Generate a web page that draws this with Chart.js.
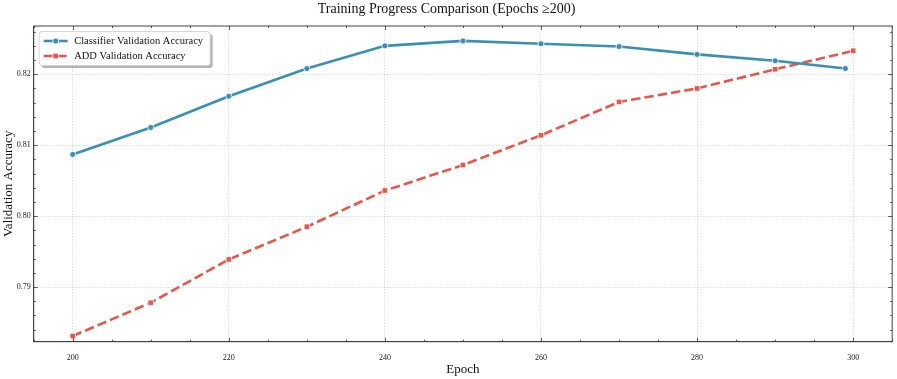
<!DOCTYPE html>
<html>
<head>
<meta charset="utf-8">
<script src="https://cdn.jsdelivr.net/npm/chart.js@4/dist/chart.umd.min.js"></script>
<style>
  html, body { margin: 0; padding: 0; background: #fff; }
  #wrap { width: 897px; height: 379px; position: relative; }
</style>
</head>
<body>
<div id="wrap"><canvas id="c"></canvas></div>
<script>
// ---- data ----
const classifierEpochs = [200, 210, 220, 230, 240, 250, 260, 270, 280, 290, 299];
const classifierAcc    = [0.8087, 0.8125, 0.8169, 0.8208, 0.8240, 0.8247, 0.8243, 0.8239, 0.8228, 0.8219, 0.8208];
const addEpochs        = [200, 210, 220, 230, 240, 250, 260, 270, 280, 290, 300];
const addAcc           = [0.7831, 0.7878, 0.7939, 0.7985, 0.8036, 0.8072, 0.8114, 0.8161, 0.8180, 0.8207, 0.8233];
const xTickValues      = [200, 220, 240, 260, 280, 300];
const yTickValues      = [0.79, 0.80, 0.81, 0.82];
const seriesNames      = ['Classifier Validation Accuracy', 'ADD Validation Accuracy'];
const titleText        = 'Training Progress Comparison (Epochs \u2265200)';
const xLabel           = 'Epoch';
const yLabel           = 'Validation Accuracy';

const BLUE = '#3A8FB7';
const RED  = '#E8564A';
const SERIF = '"Liberation Serif", "DejaVu Serif", serif';

function toXY(xs, ys) { return xs.map((x, i) => ({ x: x, y: ys[i] })); }

// inward ticks, top/right frame and legend
const decorPlugin = {
  id: 'decor',
  afterDraw(chart) {
    const ctx = chart.ctx;
    const a = chart.chartArea;
    const xs = chart.scales.x, ys = chart.scales.y;
    ctx.save();
    // frame
    ctx.strokeStyle = '#444';
    ctx.lineWidth = 1;
    ctx.strokeRect(a.left, a.top, a.right - a.left, a.bottom - a.top);
    // ticks
    ctx.strokeStyle = '#333';
    ctx.lineWidth = 0.8;
    const major = 4, minor = 2;
    ctx.beginPath();
    for (let v = Math.ceil(xs.min / 5) * 5; v <= xs.max + 1e-9; v += 5) {
      const px = Math.round(xs.getPixelForValue(v)) + 0.5;
      const L = (v % 20 === 0) ? major : minor;
      ctx.moveTo(px, a.bottom); ctx.lineTo(px, a.bottom - L);
      ctx.moveTo(px, a.top); ctx.lineTo(px, a.top + L);
    }
    const start = Math.ceil(ys.min / 0.002 - 1e-6);
    const end = Math.floor(ys.max / 0.002 + 1e-6);
    for (let k = start; k <= end; k++) {
      const v = k * 0.002;
      const py = Math.round(ys.getPixelForValue(v)) + 0.5;
      const L = (k % 5 === 0) ? major : minor;
      ctx.moveTo(a.left, py); ctx.lineTo(a.left + L, py);
      ctx.moveTo(a.right, py); ctx.lineTo(a.right - L, py);
    }
    ctx.stroke();

    // legend
    const lx = a.left + 5.5, ly = a.top + 5.5, lw = 171, lh = 34, r = 3;
    function rr(x, y, w, h) {
      ctx.beginPath();
      ctx.moveTo(x + r, y);
      ctx.lineTo(x + w - r, y); ctx.quadraticCurveTo(x + w, y, x + w, y + r);
      ctx.lineTo(x + w, y + h - r); ctx.quadraticCurveTo(x + w, y + h, x + w - r, y + h);
      ctx.lineTo(x + r, y + h); ctx.quadraticCurveTo(x, y + h, x, y + h - r);
      ctx.lineTo(x, y + r); ctx.quadraticCurveTo(x, y, x + r, y);
      ctx.closePath();
    }
    rr(lx + 2.5, ly + 2.5, lw, lh);
    ctx.fillStyle = 'rgba(120,120,120,0.55)';
    ctx.fill();
    rr(lx, ly, lw, lh);
    ctx.fillStyle = '#fff';
    ctx.fill();
    ctx.strokeStyle = '#cccccc';
    ctx.lineWidth = 0.8;
    ctx.stroke();

    chart.data.datasets.forEach((ds, i) => {
      const cy = ly + 9.5 + i * 15;
      const x0 = lx + 4.5, x1 = lx + 28.5;
      ctx.save();
      ctx.strokeStyle = ds.borderColor;
      ctx.lineWidth = ds.borderWidth;
      ctx.setLineDash(ds.borderDash || []);
      ctx.beginPath(); ctx.moveTo(x0, cy); ctx.lineTo(x1, cy); ctx.stroke();
      ctx.setLineDash([]);
      const mx = (x0 + x1) / 2;
      ctx.fillStyle = ds.borderColor;
      ctx.strokeStyle = '#fff';
      ctx.lineWidth = 0.8;
      ctx.beginPath();
      if (ds.pointStyle === 'rect') {
        const s = 2.8;
        ctx.rect(mx - s, cy - s, 2 * s, 2 * s);
      } else {
        ctx.arc(mx, cy, 3, 0, Math.PI * 2);
      }
      ctx.fill(); ctx.stroke();
      ctx.restore();
      ctx.fillStyle = '#111';
      ctx.font = '10.5px ' + SERIF;
      ctx.textBaseline = 'middle';
      ctx.textAlign = 'left';
      ctx.fillText(ds.label, lx + 35, cy + 0.5);
    });
    ctx.restore();
  }
};

new Chart(document.getElementById('c'), {
  type: 'line',
  data: {
    datasets: [
      {
        label: seriesNames[0],
        data: toXY(classifierEpochs, classifierAcc),
        borderColor: BLUE,
        backgroundColor: BLUE,
        borderWidth: 2.6,
        pointStyle: 'circle',
        pointRadius: 3,
        pointBackgroundColor: BLUE,
        pointBorderColor: '#fff',
        pointBorderWidth: 0.8,
        tension: 0,
        fill: false
      },
      {
        label: seriesNames[1],
        data: toXY(addEpochs, addAcc),
        borderColor: RED,
        backgroundColor: RED,
        borderWidth: 2.6,
        borderDash: [9.5, 4],
        pointStyle: 'rect',
        pointRadius: 3.9,
        pointBackgroundColor: RED,
        pointBorderColor: '#fff',
        pointBorderWidth: 0.8,
        tension: 0,
        fill: false
      }
    ]
  },
  options: {
    responsive: true,
    maintainAspectRatio: false,
    animation: false,
    events: [],
    layout: { padding: { top: 0, right: 4, left: 0, bottom: 0 } },
    plugins: {
      legend: { display: false },
      tooltip: { enabled: false },
      title: {
        display: true,
        text: titleText,
        color: '#111',
        font: { family: SERIF, size: 14, weight: 'normal', lineHeight: 1.2 },
        padding: { top: 1, bottom: 8.2 }
      }
    },
    scales: {
      x: {
        type: 'linear',
        min: 195,
        max: 305,
        afterBuildTicks(scale) { scale.ticks = xTickValues.map(v => ({ value: v })); },
        afterFit(scale) { scale.height = 37.3; },
        ticks: {
          color: '#222',
          padding: 11,
          maxRotation: 0,
          font: { family: SERIF, size: 8 },
          callback: (v) => String(v)
        },
        grid: {
          drawTicks: false,
          color: 'rgba(0,0,0,0.22)',
          lineWidth: 0.7
        },
        border: { display: true, color: '#444', width: 1, dash: [1.2, 1.6] },
        title: {
          display: true,
          text: xLabel,
          color: '#111',
          font: { family: SERIF, size: 13, lineHeight: 1.2 },
          padding: { top: 0, bottom: 1.2 }
        }
      },
      y: {
        type: 'linear',
        min: 0.7823,
        max: 0.8268,
        afterBuildTicks(scale) { scale.ticks = yTickValues.map(v => ({ value: v })); },
        afterFit(scale) { scale.width = 33.7; },
        ticks: {
          color: '#222',
          padding: 3,
          font: { family: SERIF, size: 8 },
          callback: (v) => Number(v).toFixed(2)
        },
        grid: {
          drawTicks: false,
          color: 'rgba(0,0,0,0.22)',
          lineWidth: 0.7
        },
        border: { display: true, color: '#444', width: 1, dash: [1.2, 1.6] },
        title: {
          display: true,
          text: yLabel,
          color: '#111',
          font: { family: SERIF, size: 13, lineHeight: 1.2 },
          padding: { top: 1.2, bottom: 0 }
        }
      }
    }
  },
  plugins: [decorPlugin]
});
</script>
</body>
</html>
